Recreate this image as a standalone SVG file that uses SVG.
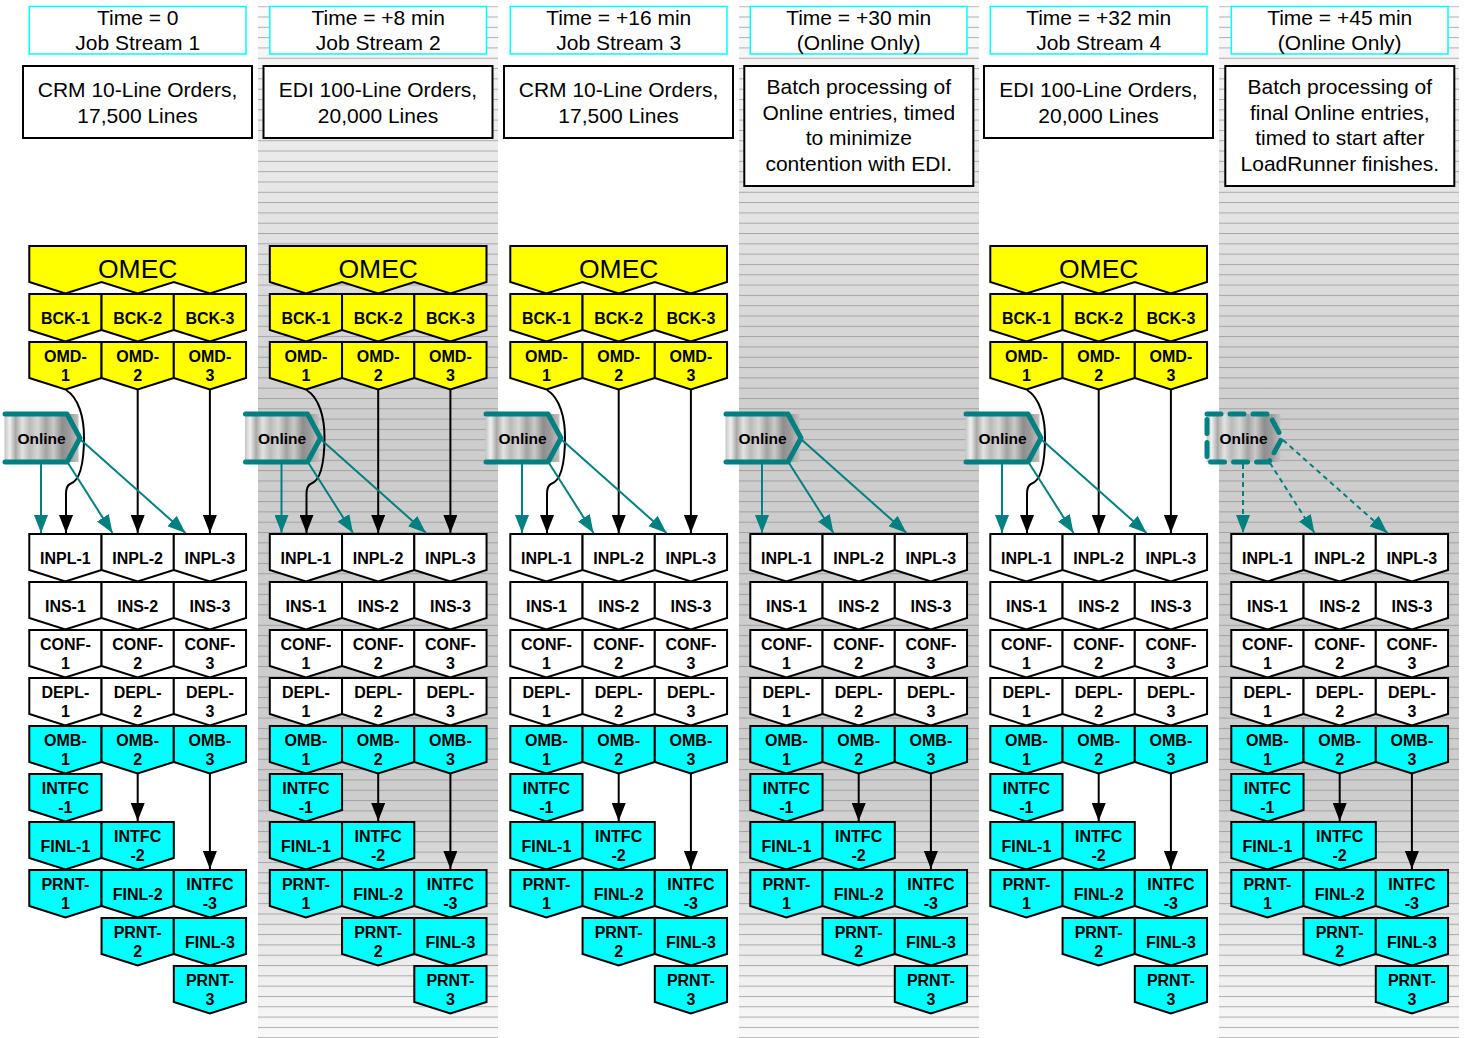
<svg xmlns="http://www.w3.org/2000/svg" xmlns:xlink="http://www.w3.org/1999/xlink" width="1466" height="1038" viewBox="0 0 1466 1038">
<style>
.hd{font-family:"Liberation Sans",Arial,sans-serif;font-size:21px;text-anchor:middle;fill:#000}
.om{font-family:"Liberation Sans",Arial,sans-serif;font-size:26.5px;text-anchor:middle;fill:#000}
.t{font-family:"Liberation Sans",Arial,sans-serif;font-size:16px;font-weight:bold;text-anchor:middle;fill:#000}
.ot{font-family:"Liberation Sans",Arial,sans-serif;font-size:15.5px;font-weight:bold;text-anchor:middle;fill:#000}
.cy{fill:#fff;stroke:#00ffff;stroke-width:1.5}
.bx{fill:#fff;stroke:#000;stroke-width:2}
.w{fill:#fff}.c{fill:#00ffff}.y{fill:#ffff00}
.k{fill:none;stroke:#000;stroke-width:2;marker-end:url(#ab)}
.tl{fill:none;stroke:#008080;stroke-width:2;marker-end:url(#at)}
.td{fill:none;stroke:#008080;stroke-width:2;stroke-dasharray:5,4;marker-end:url(#at)}
.ol{fill:none;stroke:#008080;stroke-width:5;stroke-linecap:round;stroke-linejoin:round}
.old{fill:none;stroke:#008080;stroke-width:5;stroke-linecap:round;stroke-linejoin:round;stroke-dasharray:14,9}
</style>
<defs>
<linearGradient id="shade" x1="0" y1="0" x2="0" y2="1">
<stop offset="0" stop-color="#fbfbfb"/><stop offset="0.18" stop-color="#e6e6e6"/><stop offset="0.4" stop-color="#cdcdcd"/><stop offset="0.76" stop-color="#cdcdcd"/><stop offset="0.9" stop-color="#e9e9e9"/><stop offset="1" stop-color="#fbfbfb"/>
</linearGradient>
<pattern id="hl" patternUnits="userSpaceOnUse" x="0" y="6.2" width="20" height="10.31">
<rect x="0" y="0" width="20" height="1" fill="#8f8f8f" fill-opacity="0.7"/>
</pattern>
<linearGradient id="metal" x1="0" y1="0" x2="1" y2="0">
<stop offset="0" stop-color="#c4c4c4"/><stop offset="0.07" stop-color="#efefef"/><stop offset="0.15" stop-color="#a9a9a9"/><stop offset="0.24" stop-color="#e2e2e2"/><stop offset="0.34" stop-color="#bababa"/><stop offset="0.45" stop-color="#d6d6d6"/><stop offset="0.56" stop-color="#a3a3a3"/><stop offset="0.66" stop-color="#c9c9c9"/><stop offset="0.78" stop-color="#8e8e8e"/><stop offset="0.88" stop-color="#9c9c9c"/><stop offset="1" stop-color="#c2c2c2"/>
</linearGradient>
<path id="p" d="M0,0H72.25V36L36.1,47.5L0,36Z" stroke="#000" stroke-width="2"/>
<path id="omec" d="M0,0H216.7V36L180.6,47.5L144.5,36L108.4,47.5L72.25,36L36.1,47.5L0,36Z" stroke="#000" stroke-width="2"/>
<marker id="ab" markerUnits="userSpaceOnUse" markerWidth="18" markerHeight="14" refX="18" refY="7" orient="auto" viewBox="0 0 18 14"><path d="M0,0L18,7L0,14Z" fill="#000"/></marker>
<marker id="at" markerUnits="userSpaceOnUse" markerWidth="18" markerHeight="14" refX="18" refY="7" orient="auto" viewBox="0 0 18 14"><path d="M0,0L18,7L0,14Z" fill="#008080"/></marker>
</defs>
<rect x="0" y="0" width="1466" height="1038" fill="#fff"/>
<g id="backgrounds">
<rect x="258" y="6.2" width="240" height="1040" fill="url(#shade)"/><rect x="258" y="6.2" width="240" height="1040" fill="url(#hl)"/>
<rect x="739" y="6.2" width="240" height="1040" fill="url(#shade)"/><rect x="739" y="6.2" width="240" height="1040" fill="url(#hl)"/>
<rect x="1219" y="6.2" width="240" height="1040" fill="url(#shade)"/><rect x="1219" y="6.2" width="240" height="1040" fill="url(#hl)"/>
</g>

<!-- Column 1 -->
<g id="col1" transform="translate(0,0)">
<g id="c1-hdr"><rect class="cy" x="29.3" y="6.5" width="216.7" height="47.5"/><text class="hd" x="137.7" y="25">Time = 0</text><text class="hd" x="137.7" y="50">Job Stream 1</text></g>
<g id="c1-desc"><rect class="bx" x="23" y="66" width="229" height="72"/><text class="hd" x="137.5" y="96.5">CRM 10-Line Orders,</text><text class="hd" x="137.5" y="122.5">17,500 Lines</text></g>
<g id="c1-omec" transform="translate(29.3,246)"><use href="#omec" class="y"/><text class="om" x="108.4" y="32">OMEC</text></g>
<g id="c1-bck1" transform="translate(29.3,294)"><use href="#p" class="y"/><text class="t" x="36.1" y="29.5">BCK-1</text></g>
<g id="c1-bck2" transform="translate(101.55,294)"><use href="#p" class="y"/><text class="t" x="36.1" y="29.5">BCK-2</text></g>
<g id="c1-bck3" transform="translate(173.8,294)"><use href="#p" class="y"/><text class="t" x="36.1" y="29.5">BCK-3</text></g>
<g id="c1-omd1" transform="translate(29.3,342)"><use href="#p" class="y"/><text class="t" x="36.1" y="19.7">OMD-<tspan x="36.1" y="38.7">1</tspan></text></g>
<g id="c1-omd2" transform="translate(101.55,342)"><use href="#p" class="y"/><text class="t" x="36.1" y="19.7">OMD-<tspan x="36.1" y="38.7">2</tspan></text></g>
<g id="c1-omd3" transform="translate(173.8,342)"><use href="#p" class="y"/><text class="t" x="36.1" y="19.7">OMD-<tspan x="36.1" y="38.7">3</tspan></text></g>
<g id="c1-online"><rect x="4.5" y="414" width="74" height="48" fill="url(#metal)"/><path class="ol" d="M5,414H67L80,438L67,462H5"/><text class="ot" x="41.5" y="443.5">Online</text></g>
<g id="c1-inpl1" transform="translate(29.3,534)"><use href="#p" class="w"/><text class="t" x="36.1" y="29.5">INPL-1</text></g>
<g id="c1-inpl2" transform="translate(101.55,534)"><use href="#p" class="w"/><text class="t" x="36.1" y="29.5">INPL-2</text></g>
<g id="c1-inpl3" transform="translate(173.8,534)"><use href="#p" class="w"/><text class="t" x="36.1" y="29.5">INPL-3</text></g>
<g id="c1-ins1" transform="translate(29.3,582)"><use href="#p" class="w"/><text class="t" x="36.1" y="29.5">INS-1</text></g>
<g id="c1-ins2" transform="translate(101.55,582)"><use href="#p" class="w"/><text class="t" x="36.1" y="29.5">INS-2</text></g>
<g id="c1-ins3" transform="translate(173.8,582)"><use href="#p" class="w"/><text class="t" x="36.1" y="29.5">INS-3</text></g>
<g id="c1-conf1" transform="translate(29.3,630)"><use href="#p" class="w"/><text class="t" x="36.1" y="19.7">CONF-<tspan x="36.1" y="38.5">1</tspan></text></g>
<g id="c1-conf2" transform="translate(101.55,630)"><use href="#p" class="w"/><text class="t" x="36.1" y="19.7">CONF-<tspan x="36.1" y="38.5">2</tspan></text></g>
<g id="c1-conf3" transform="translate(173.8,630)"><use href="#p" class="w"/><text class="t" x="36.1" y="19.7">CONF-<tspan x="36.1" y="38.5">3</tspan></text></g>
<g id="c1-depl1" transform="translate(29.3,678)"><use href="#p" class="w"/><text class="t" x="36.1" y="19.7">DEPL-<tspan x="36.1" y="38.5">1</tspan></text></g>
<g id="c1-depl2" transform="translate(101.55,678)"><use href="#p" class="w"/><text class="t" x="36.1" y="19.7">DEPL-<tspan x="36.1" y="38.5">2</tspan></text></g>
<g id="c1-depl3" transform="translate(173.8,678)"><use href="#p" class="w"/><text class="t" x="36.1" y="19.7">DEPL-<tspan x="36.1" y="38.5">3</tspan></text></g>
<g id="c1-omb1" transform="translate(29.3,726)"><use href="#p" class="c"/><text class="t" x="36.1" y="19.7">OMB-<tspan x="36.1" y="38.5">1</tspan></text></g>
<g id="c1-omb2" transform="translate(101.55,726)"><use href="#p" class="c"/><text class="t" x="36.1" y="19.7">OMB-<tspan x="36.1" y="38.5">2</tspan></text></g>
<g id="c1-omb3" transform="translate(173.8,726)"><use href="#p" class="c"/><text class="t" x="36.1" y="19.7">OMB-<tspan x="36.1" y="38.5">3</tspan></text></g>
<g id="c1-intfc1" transform="translate(29.3,774)"><use href="#p" class="c"/><text class="t" x="36.1" y="19.7">INTFC<tspan x="36.1" y="38.5">-1</tspan></text></g>
<g id="c1-finl1" transform="translate(29.3,822)"><use href="#p" class="c"/><text class="t" x="36.1" y="29.5">FINL-1</text></g>
<g id="c1-intfc2" transform="translate(101.55,822)"><use href="#p" class="c"/><text class="t" x="36.1" y="19.7">INTFC<tspan x="36.1" y="38.5">-2</tspan></text></g>
<g id="c1-prnt1" transform="translate(29.3,870)"><use href="#p" class="c"/><text class="t" x="36.1" y="19.7">PRNT-<tspan x="36.1" y="38.5">1</tspan></text></g>
<g id="c1-finl2" transform="translate(101.55,870)"><use href="#p" class="c"/><text class="t" x="36.1" y="29.5">FINL-2</text></g>
<g id="c1-intfc3" transform="translate(173.8,870)"><use href="#p" class="c"/><text class="t" x="36.1" y="19.7">INTFC<tspan x="36.1" y="38.5">-3</tspan></text></g>
<g id="c1-prnt2" transform="translate(101.55,918)"><use href="#p" class="c"/><text class="t" x="36.1" y="19.7">PRNT-<tspan x="36.1" y="38.5">2</tspan></text></g>
<g id="c1-finl3" transform="translate(173.8,918)"><use href="#p" class="c"/><text class="t" x="36.1" y="29.5">FINL-3</text></g>
<g id="c1-prnt3" transform="translate(173.8,966)"><use href="#p" class="c"/><text class="t" x="36.1" y="19.7">PRNT-<tspan x="36.1" y="38.5">3</tspan></text></g>
</g>

<!-- Column 2 -->
<g id="col2" transform="translate(240.5,0)">
<g id="c2-hdr"><rect class="cy" x="29.3" y="6.5" width="216.7" height="47.5"/><text class="hd" x="137.7" y="25">Time = +8 min</text><text class="hd" x="137.7" y="50">Job Stream 2</text></g>
<g id="c2-desc"><rect class="bx" x="23" y="66" width="229" height="72"/><text class="hd" x="137.5" y="96.5">EDI 100-Line Orders,</text><text class="hd" x="137.5" y="122.5">20,000 Lines</text></g>
<g id="c2-omec" transform="translate(29.3,246)"><use href="#omec" class="y"/><text class="om" x="108.4" y="32">OMEC</text></g>
<g id="c2-bck1" transform="translate(29.3,294)"><use href="#p" class="y"/><text class="t" x="36.1" y="29.5">BCK-1</text></g>
<g id="c2-bck2" transform="translate(101.55,294)"><use href="#p" class="y"/><text class="t" x="36.1" y="29.5">BCK-2</text></g>
<g id="c2-bck3" transform="translate(173.8,294)"><use href="#p" class="y"/><text class="t" x="36.1" y="29.5">BCK-3</text></g>
<g id="c2-omd1" transform="translate(29.3,342)"><use href="#p" class="y"/><text class="t" x="36.1" y="19.7">OMD-<tspan x="36.1" y="38.7">1</tspan></text></g>
<g id="c2-omd2" transform="translate(101.55,342)"><use href="#p" class="y"/><text class="t" x="36.1" y="19.7">OMD-<tspan x="36.1" y="38.7">2</tspan></text></g>
<g id="c2-omd3" transform="translate(173.8,342)"><use href="#p" class="y"/><text class="t" x="36.1" y="19.7">OMD-<tspan x="36.1" y="38.7">3</tspan></text></g>
<g id="c2-online"><rect x="4.5" y="414" width="74" height="48" fill="url(#metal)"/><path class="ol" d="M5,414H67L80,438L67,462H5"/><text class="ot" x="41.5" y="443.5">Online</text></g>
<g id="c2-inpl1" transform="translate(29.3,534)"><use href="#p" class="w"/><text class="t" x="36.1" y="29.5">INPL-1</text></g>
<g id="c2-inpl2" transform="translate(101.55,534)"><use href="#p" class="w"/><text class="t" x="36.1" y="29.5">INPL-2</text></g>
<g id="c2-inpl3" transform="translate(173.8,534)"><use href="#p" class="w"/><text class="t" x="36.1" y="29.5">INPL-3</text></g>
<g id="c2-ins1" transform="translate(29.3,582)"><use href="#p" class="w"/><text class="t" x="36.1" y="29.5">INS-1</text></g>
<g id="c2-ins2" transform="translate(101.55,582)"><use href="#p" class="w"/><text class="t" x="36.1" y="29.5">INS-2</text></g>
<g id="c2-ins3" transform="translate(173.8,582)"><use href="#p" class="w"/><text class="t" x="36.1" y="29.5">INS-3</text></g>
<g id="c2-conf1" transform="translate(29.3,630)"><use href="#p" class="w"/><text class="t" x="36.1" y="19.7">CONF-<tspan x="36.1" y="38.5">1</tspan></text></g>
<g id="c2-conf2" transform="translate(101.55,630)"><use href="#p" class="w"/><text class="t" x="36.1" y="19.7">CONF-<tspan x="36.1" y="38.5">2</tspan></text></g>
<g id="c2-conf3" transform="translate(173.8,630)"><use href="#p" class="w"/><text class="t" x="36.1" y="19.7">CONF-<tspan x="36.1" y="38.5">3</tspan></text></g>
<g id="c2-depl1" transform="translate(29.3,678)"><use href="#p" class="w"/><text class="t" x="36.1" y="19.7">DEPL-<tspan x="36.1" y="38.5">1</tspan></text></g>
<g id="c2-depl2" transform="translate(101.55,678)"><use href="#p" class="w"/><text class="t" x="36.1" y="19.7">DEPL-<tspan x="36.1" y="38.5">2</tspan></text></g>
<g id="c2-depl3" transform="translate(173.8,678)"><use href="#p" class="w"/><text class="t" x="36.1" y="19.7">DEPL-<tspan x="36.1" y="38.5">3</tspan></text></g>
<g id="c2-omb1" transform="translate(29.3,726)"><use href="#p" class="c"/><text class="t" x="36.1" y="19.7">OMB-<tspan x="36.1" y="38.5">1</tspan></text></g>
<g id="c2-omb2" transform="translate(101.55,726)"><use href="#p" class="c"/><text class="t" x="36.1" y="19.7">OMB-<tspan x="36.1" y="38.5">2</tspan></text></g>
<g id="c2-omb3" transform="translate(173.8,726)"><use href="#p" class="c"/><text class="t" x="36.1" y="19.7">OMB-<tspan x="36.1" y="38.5">3</tspan></text></g>
<g id="c2-intfc1" transform="translate(29.3,774)"><use href="#p" class="c"/><text class="t" x="36.1" y="19.7">INTFC<tspan x="36.1" y="38.5">-1</tspan></text></g>
<g id="c2-finl1" transform="translate(29.3,822)"><use href="#p" class="c"/><text class="t" x="36.1" y="29.5">FINL-1</text></g>
<g id="c2-intfc2" transform="translate(101.55,822)"><use href="#p" class="c"/><text class="t" x="36.1" y="19.7">INTFC<tspan x="36.1" y="38.5">-2</tspan></text></g>
<g id="c2-prnt1" transform="translate(29.3,870)"><use href="#p" class="c"/><text class="t" x="36.1" y="19.7">PRNT-<tspan x="36.1" y="38.5">1</tspan></text></g>
<g id="c2-finl2" transform="translate(101.55,870)"><use href="#p" class="c"/><text class="t" x="36.1" y="29.5">FINL-2</text></g>
<g id="c2-intfc3" transform="translate(173.8,870)"><use href="#p" class="c"/><text class="t" x="36.1" y="19.7">INTFC<tspan x="36.1" y="38.5">-3</tspan></text></g>
<g id="c2-prnt2" transform="translate(101.55,918)"><use href="#p" class="c"/><text class="t" x="36.1" y="19.7">PRNT-<tspan x="36.1" y="38.5">2</tspan></text></g>
<g id="c2-finl3" transform="translate(173.8,918)"><use href="#p" class="c"/><text class="t" x="36.1" y="29.5">FINL-3</text></g>
<g id="c2-prnt3" transform="translate(173.8,966)"><use href="#p" class="c"/><text class="t" x="36.1" y="19.7">PRNT-<tspan x="36.1" y="38.5">3</tspan></text></g>
</g>

<!-- Column 3 -->
<g id="col3" transform="translate(481,0)">
<g id="c3-hdr"><rect class="cy" x="29.3" y="6.5" width="216.7" height="47.5"/><text class="hd" x="137.7" y="25">Time = +16 min</text><text class="hd" x="137.7" y="50">Job Stream 3</text></g>
<g id="c3-desc"><rect class="bx" x="23" y="66" width="229" height="72"/><text class="hd" x="137.5" y="96.5">CRM 10-Line Orders,</text><text class="hd" x="137.5" y="122.5">17,500 Lines</text></g>
<g id="c3-omec" transform="translate(29.3,246)"><use href="#omec" class="y"/><text class="om" x="108.4" y="32">OMEC</text></g>
<g id="c3-bck1" transform="translate(29.3,294)"><use href="#p" class="y"/><text class="t" x="36.1" y="29.5">BCK-1</text></g>
<g id="c3-bck2" transform="translate(101.55,294)"><use href="#p" class="y"/><text class="t" x="36.1" y="29.5">BCK-2</text></g>
<g id="c3-bck3" transform="translate(173.8,294)"><use href="#p" class="y"/><text class="t" x="36.1" y="29.5">BCK-3</text></g>
<g id="c3-omd1" transform="translate(29.3,342)"><use href="#p" class="y"/><text class="t" x="36.1" y="19.7">OMD-<tspan x="36.1" y="38.7">1</tspan></text></g>
<g id="c3-omd2" transform="translate(101.55,342)"><use href="#p" class="y"/><text class="t" x="36.1" y="19.7">OMD-<tspan x="36.1" y="38.7">2</tspan></text></g>
<g id="c3-omd3" transform="translate(173.8,342)"><use href="#p" class="y"/><text class="t" x="36.1" y="19.7">OMD-<tspan x="36.1" y="38.7">3</tspan></text></g>
<g id="c3-online"><rect x="4.5" y="414" width="74" height="48" fill="url(#metal)"/><path class="ol" d="M5,414H67L80,438L67,462H5"/><text class="ot" x="41.5" y="443.5">Online</text></g>
<g id="c3-inpl1" transform="translate(29.3,534)"><use href="#p" class="w"/><text class="t" x="36.1" y="29.5">INPL-1</text></g>
<g id="c3-inpl2" transform="translate(101.55,534)"><use href="#p" class="w"/><text class="t" x="36.1" y="29.5">INPL-2</text></g>
<g id="c3-inpl3" transform="translate(173.8,534)"><use href="#p" class="w"/><text class="t" x="36.1" y="29.5">INPL-3</text></g>
<g id="c3-ins1" transform="translate(29.3,582)"><use href="#p" class="w"/><text class="t" x="36.1" y="29.5">INS-1</text></g>
<g id="c3-ins2" transform="translate(101.55,582)"><use href="#p" class="w"/><text class="t" x="36.1" y="29.5">INS-2</text></g>
<g id="c3-ins3" transform="translate(173.8,582)"><use href="#p" class="w"/><text class="t" x="36.1" y="29.5">INS-3</text></g>
<g id="c3-conf1" transform="translate(29.3,630)"><use href="#p" class="w"/><text class="t" x="36.1" y="19.7">CONF-<tspan x="36.1" y="38.5">1</tspan></text></g>
<g id="c3-conf2" transform="translate(101.55,630)"><use href="#p" class="w"/><text class="t" x="36.1" y="19.7">CONF-<tspan x="36.1" y="38.5">2</tspan></text></g>
<g id="c3-conf3" transform="translate(173.8,630)"><use href="#p" class="w"/><text class="t" x="36.1" y="19.7">CONF-<tspan x="36.1" y="38.5">3</tspan></text></g>
<g id="c3-depl1" transform="translate(29.3,678)"><use href="#p" class="w"/><text class="t" x="36.1" y="19.7">DEPL-<tspan x="36.1" y="38.5">1</tspan></text></g>
<g id="c3-depl2" transform="translate(101.55,678)"><use href="#p" class="w"/><text class="t" x="36.1" y="19.7">DEPL-<tspan x="36.1" y="38.5">2</tspan></text></g>
<g id="c3-depl3" transform="translate(173.8,678)"><use href="#p" class="w"/><text class="t" x="36.1" y="19.7">DEPL-<tspan x="36.1" y="38.5">3</tspan></text></g>
<g id="c3-omb1" transform="translate(29.3,726)"><use href="#p" class="c"/><text class="t" x="36.1" y="19.7">OMB-<tspan x="36.1" y="38.5">1</tspan></text></g>
<g id="c3-omb2" transform="translate(101.55,726)"><use href="#p" class="c"/><text class="t" x="36.1" y="19.7">OMB-<tspan x="36.1" y="38.5">2</tspan></text></g>
<g id="c3-omb3" transform="translate(173.8,726)"><use href="#p" class="c"/><text class="t" x="36.1" y="19.7">OMB-<tspan x="36.1" y="38.5">3</tspan></text></g>
<g id="c3-intfc1" transform="translate(29.3,774)"><use href="#p" class="c"/><text class="t" x="36.1" y="19.7">INTFC<tspan x="36.1" y="38.5">-1</tspan></text></g>
<g id="c3-finl1" transform="translate(29.3,822)"><use href="#p" class="c"/><text class="t" x="36.1" y="29.5">FINL-1</text></g>
<g id="c3-intfc2" transform="translate(101.55,822)"><use href="#p" class="c"/><text class="t" x="36.1" y="19.7">INTFC<tspan x="36.1" y="38.5">-2</tspan></text></g>
<g id="c3-prnt1" transform="translate(29.3,870)"><use href="#p" class="c"/><text class="t" x="36.1" y="19.7">PRNT-<tspan x="36.1" y="38.5">1</tspan></text></g>
<g id="c3-finl2" transform="translate(101.55,870)"><use href="#p" class="c"/><text class="t" x="36.1" y="29.5">FINL-2</text></g>
<g id="c3-intfc3" transform="translate(173.8,870)"><use href="#p" class="c"/><text class="t" x="36.1" y="19.7">INTFC<tspan x="36.1" y="38.5">-3</tspan></text></g>
<g id="c3-prnt2" transform="translate(101.55,918)"><use href="#p" class="c"/><text class="t" x="36.1" y="19.7">PRNT-<tspan x="36.1" y="38.5">2</tspan></text></g>
<g id="c3-finl3" transform="translate(173.8,918)"><use href="#p" class="c"/><text class="t" x="36.1" y="29.5">FINL-3</text></g>
<g id="c3-prnt3" transform="translate(173.8,966)"><use href="#p" class="c"/><text class="t" x="36.1" y="19.7">PRNT-<tspan x="36.1" y="38.5">3</tspan></text></g>
</g>

<!-- Column 4 -->
<g id="col4" transform="translate(721,0)">
<g id="c4-hdr"><rect class="cy" x="29.3" y="6.5" width="216.7" height="47.5"/><text class="hd" x="137.7" y="25">Time = +30 min</text><text class="hd" x="137.7" y="50">(Online Only)</text></g>
<g id="c4-desc"><rect class="bx" x="23.3" y="66" width="229" height="120"/><text class="hd" x="137.8" y="94">Batch processing of</text><text class="hd" x="137.8" y="119.5">Online entries, timed</text><text class="hd" x="137.8" y="145">to minimize</text><text class="hd" x="137.8" y="170.5">contention with EDI.</text></g>
<g id="c4-online"><rect x="4.5" y="414" width="74" height="48" fill="url(#metal)"/><path class="ol" d="M5,414H67L80,438L67,462H5"/><text class="ot" x="41.5" y="443.5">Online</text></g>
<g id="c4-inpl1" transform="translate(29.3,534)"><use href="#p" class="w"/><text class="t" x="36.1" y="29.5">INPL-1</text></g>
<g id="c4-inpl2" transform="translate(101.55,534)"><use href="#p" class="w"/><text class="t" x="36.1" y="29.5">INPL-2</text></g>
<g id="c4-inpl3" transform="translate(173.8,534)"><use href="#p" class="w"/><text class="t" x="36.1" y="29.5">INPL-3</text></g>
<g id="c4-ins1" transform="translate(29.3,582)"><use href="#p" class="w"/><text class="t" x="36.1" y="29.5">INS-1</text></g>
<g id="c4-ins2" transform="translate(101.55,582)"><use href="#p" class="w"/><text class="t" x="36.1" y="29.5">INS-2</text></g>
<g id="c4-ins3" transform="translate(173.8,582)"><use href="#p" class="w"/><text class="t" x="36.1" y="29.5">INS-3</text></g>
<g id="c4-conf1" transform="translate(29.3,630)"><use href="#p" class="w"/><text class="t" x="36.1" y="19.7">CONF-<tspan x="36.1" y="38.5">1</tspan></text></g>
<g id="c4-conf2" transform="translate(101.55,630)"><use href="#p" class="w"/><text class="t" x="36.1" y="19.7">CONF-<tspan x="36.1" y="38.5">2</tspan></text></g>
<g id="c4-conf3" transform="translate(173.8,630)"><use href="#p" class="w"/><text class="t" x="36.1" y="19.7">CONF-<tspan x="36.1" y="38.5">3</tspan></text></g>
<g id="c4-depl1" transform="translate(29.3,678)"><use href="#p" class="w"/><text class="t" x="36.1" y="19.7">DEPL-<tspan x="36.1" y="38.5">1</tspan></text></g>
<g id="c4-depl2" transform="translate(101.55,678)"><use href="#p" class="w"/><text class="t" x="36.1" y="19.7">DEPL-<tspan x="36.1" y="38.5">2</tspan></text></g>
<g id="c4-depl3" transform="translate(173.8,678)"><use href="#p" class="w"/><text class="t" x="36.1" y="19.7">DEPL-<tspan x="36.1" y="38.5">3</tspan></text></g>
<g id="c4-omb1" transform="translate(29.3,726)"><use href="#p" class="c"/><text class="t" x="36.1" y="19.7">OMB-<tspan x="36.1" y="38.5">1</tspan></text></g>
<g id="c4-omb2" transform="translate(101.55,726)"><use href="#p" class="c"/><text class="t" x="36.1" y="19.7">OMB-<tspan x="36.1" y="38.5">2</tspan></text></g>
<g id="c4-omb3" transform="translate(173.8,726)"><use href="#p" class="c"/><text class="t" x="36.1" y="19.7">OMB-<tspan x="36.1" y="38.5">3</tspan></text></g>
<g id="c4-intfc1" transform="translate(29.3,774)"><use href="#p" class="c"/><text class="t" x="36.1" y="19.7">INTFC<tspan x="36.1" y="38.5">-1</tspan></text></g>
<g id="c4-finl1" transform="translate(29.3,822)"><use href="#p" class="c"/><text class="t" x="36.1" y="29.5">FINL-1</text></g>
<g id="c4-intfc2" transform="translate(101.55,822)"><use href="#p" class="c"/><text class="t" x="36.1" y="19.7">INTFC<tspan x="36.1" y="38.5">-2</tspan></text></g>
<g id="c4-prnt1" transform="translate(29.3,870)"><use href="#p" class="c"/><text class="t" x="36.1" y="19.7">PRNT-<tspan x="36.1" y="38.5">1</tspan></text></g>
<g id="c4-finl2" transform="translate(101.55,870)"><use href="#p" class="c"/><text class="t" x="36.1" y="29.5">FINL-2</text></g>
<g id="c4-intfc3" transform="translate(173.8,870)"><use href="#p" class="c"/><text class="t" x="36.1" y="19.7">INTFC<tspan x="36.1" y="38.5">-3</tspan></text></g>
<g id="c4-prnt2" transform="translate(101.55,918)"><use href="#p" class="c"/><text class="t" x="36.1" y="19.7">PRNT-<tspan x="36.1" y="38.5">2</tspan></text></g>
<g id="c4-finl3" transform="translate(173.8,918)"><use href="#p" class="c"/><text class="t" x="36.1" y="29.5">FINL-3</text></g>
<g id="c4-prnt3" transform="translate(173.8,966)"><use href="#p" class="c"/><text class="t" x="36.1" y="19.7">PRNT-<tspan x="36.1" y="38.5">3</tspan></text></g>
</g>

<!-- Column 5 -->
<g id="col5" transform="translate(961,0)">
<g id="c5-hdr"><rect class="cy" x="29.3" y="6.5" width="216.7" height="47.5"/><text class="hd" x="137.7" y="25">Time = +32 min</text><text class="hd" x="137.7" y="50">Job Stream 4</text></g>
<g id="c5-desc"><rect class="bx" x="23" y="66" width="229" height="72"/><text class="hd" x="137.5" y="96.5">EDI 100-Line Orders,</text><text class="hd" x="137.5" y="122.5">20,000 Lines</text></g>
<g id="c5-omec" transform="translate(29.3,246)"><use href="#omec" class="y"/><text class="om" x="108.4" y="32">OMEC</text></g>
<g id="c5-bck1" transform="translate(29.3,294)"><use href="#p" class="y"/><text class="t" x="36.1" y="29.5">BCK-1</text></g>
<g id="c5-bck2" transform="translate(101.55,294)"><use href="#p" class="y"/><text class="t" x="36.1" y="29.5">BCK-2</text></g>
<g id="c5-bck3" transform="translate(173.8,294)"><use href="#p" class="y"/><text class="t" x="36.1" y="29.5">BCK-3</text></g>
<g id="c5-omd1" transform="translate(29.3,342)"><use href="#p" class="y"/><text class="t" x="36.1" y="19.7">OMD-<tspan x="36.1" y="38.7">1</tspan></text></g>
<g id="c5-omd2" transform="translate(101.55,342)"><use href="#p" class="y"/><text class="t" x="36.1" y="19.7">OMD-<tspan x="36.1" y="38.7">2</tspan></text></g>
<g id="c5-omd3" transform="translate(173.8,342)"><use href="#p" class="y"/><text class="t" x="36.1" y="19.7">OMD-<tspan x="36.1" y="38.7">3</tspan></text></g>
<g id="c5-online"><rect x="4.5" y="414" width="74" height="48" fill="url(#metal)"/><path class="ol" d="M5,414H67L80,438L67,462H5"/><text class="ot" x="41.5" y="443.5">Online</text></g>
<g id="c5-inpl1" transform="translate(29.3,534)"><use href="#p" class="w"/><text class="t" x="36.1" y="29.5">INPL-1</text></g>
<g id="c5-inpl2" transform="translate(101.55,534)"><use href="#p" class="w"/><text class="t" x="36.1" y="29.5">INPL-2</text></g>
<g id="c5-inpl3" transform="translate(173.8,534)"><use href="#p" class="w"/><text class="t" x="36.1" y="29.5">INPL-3</text></g>
<g id="c5-ins1" transform="translate(29.3,582)"><use href="#p" class="w"/><text class="t" x="36.1" y="29.5">INS-1</text></g>
<g id="c5-ins2" transform="translate(101.55,582)"><use href="#p" class="w"/><text class="t" x="36.1" y="29.5">INS-2</text></g>
<g id="c5-ins3" transform="translate(173.8,582)"><use href="#p" class="w"/><text class="t" x="36.1" y="29.5">INS-3</text></g>
<g id="c5-conf1" transform="translate(29.3,630)"><use href="#p" class="w"/><text class="t" x="36.1" y="19.7">CONF-<tspan x="36.1" y="38.5">1</tspan></text></g>
<g id="c5-conf2" transform="translate(101.55,630)"><use href="#p" class="w"/><text class="t" x="36.1" y="19.7">CONF-<tspan x="36.1" y="38.5">2</tspan></text></g>
<g id="c5-conf3" transform="translate(173.8,630)"><use href="#p" class="w"/><text class="t" x="36.1" y="19.7">CONF-<tspan x="36.1" y="38.5">3</tspan></text></g>
<g id="c5-depl1" transform="translate(29.3,678)"><use href="#p" class="w"/><text class="t" x="36.1" y="19.7">DEPL-<tspan x="36.1" y="38.5">1</tspan></text></g>
<g id="c5-depl2" transform="translate(101.55,678)"><use href="#p" class="w"/><text class="t" x="36.1" y="19.7">DEPL-<tspan x="36.1" y="38.5">2</tspan></text></g>
<g id="c5-depl3" transform="translate(173.8,678)"><use href="#p" class="w"/><text class="t" x="36.1" y="19.7">DEPL-<tspan x="36.1" y="38.5">3</tspan></text></g>
<g id="c5-omb1" transform="translate(29.3,726)"><use href="#p" class="c"/><text class="t" x="36.1" y="19.7">OMB-<tspan x="36.1" y="38.5">1</tspan></text></g>
<g id="c5-omb2" transform="translate(101.55,726)"><use href="#p" class="c"/><text class="t" x="36.1" y="19.7">OMB-<tspan x="36.1" y="38.5">2</tspan></text></g>
<g id="c5-omb3" transform="translate(173.8,726)"><use href="#p" class="c"/><text class="t" x="36.1" y="19.7">OMB-<tspan x="36.1" y="38.5">3</tspan></text></g>
<g id="c5-intfc1" transform="translate(29.3,774)"><use href="#p" class="c"/><text class="t" x="36.1" y="19.7">INTFC<tspan x="36.1" y="38.5">-1</tspan></text></g>
<g id="c5-finl1" transform="translate(29.3,822)"><use href="#p" class="c"/><text class="t" x="36.1" y="29.5">FINL-1</text></g>
<g id="c5-intfc2" transform="translate(101.55,822)"><use href="#p" class="c"/><text class="t" x="36.1" y="19.7">INTFC<tspan x="36.1" y="38.5">-2</tspan></text></g>
<g id="c5-prnt1" transform="translate(29.3,870)"><use href="#p" class="c"/><text class="t" x="36.1" y="19.7">PRNT-<tspan x="36.1" y="38.5">1</tspan></text></g>
<g id="c5-finl2" transform="translate(101.55,870)"><use href="#p" class="c"/><text class="t" x="36.1" y="29.5">FINL-2</text></g>
<g id="c5-intfc3" transform="translate(173.8,870)"><use href="#p" class="c"/><text class="t" x="36.1" y="19.7">INTFC<tspan x="36.1" y="38.5">-3</tspan></text></g>
<g id="c5-prnt2" transform="translate(101.55,918)"><use href="#p" class="c"/><text class="t" x="36.1" y="19.7">PRNT-<tspan x="36.1" y="38.5">2</tspan></text></g>
<g id="c5-finl3" transform="translate(173.8,918)"><use href="#p" class="c"/><text class="t" x="36.1" y="29.5">FINL-3</text></g>
<g id="c5-prnt3" transform="translate(173.8,966)"><use href="#p" class="c"/><text class="t" x="36.1" y="19.7">PRNT-<tspan x="36.1" y="38.5">3</tspan></text></g>
</g>

<!-- Column 6 -->
<g id="col6" transform="translate(1202,0)">
<g id="c6-hdr"><rect class="cy" x="29.3" y="6.5" width="216.7" height="47.5"/><text class="hd" x="137.7" y="25">Time = +45 min</text><text class="hd" x="137.7" y="50">(Online Only)</text></g>
<g id="c6-desc"><rect class="bx" x="23.3" y="66" width="229" height="120"/><text class="hd" x="137.8" y="94">Batch processing of</text><text class="hd" x="137.8" y="119.5">final Online entries,</text><text class="hd" x="137.8" y="145">timed to start after</text><text class="hd" x="137.8" y="170.5">LoadRunner finishes.</text></g>
<g id="c6-online"><rect x="4.5" y="414" width="74" height="48" fill="url(#metal)"/><path class="old" d="M5,414H67L80,438L67,462H5Z"/><text class="ot" x="41.5" y="443.5">Online</text></g>
<g id="c6-inpl1" transform="translate(29.3,534)"><use href="#p" class="w"/><text class="t" x="36.1" y="29.5">INPL-1</text></g>
<g id="c6-inpl2" transform="translate(101.55,534)"><use href="#p" class="w"/><text class="t" x="36.1" y="29.5">INPL-2</text></g>
<g id="c6-inpl3" transform="translate(173.8,534)"><use href="#p" class="w"/><text class="t" x="36.1" y="29.5">INPL-3</text></g>
<g id="c6-ins1" transform="translate(29.3,582)"><use href="#p" class="w"/><text class="t" x="36.1" y="29.5">INS-1</text></g>
<g id="c6-ins2" transform="translate(101.55,582)"><use href="#p" class="w"/><text class="t" x="36.1" y="29.5">INS-2</text></g>
<g id="c6-ins3" transform="translate(173.8,582)"><use href="#p" class="w"/><text class="t" x="36.1" y="29.5">INS-3</text></g>
<g id="c6-conf1" transform="translate(29.3,630)"><use href="#p" class="w"/><text class="t" x="36.1" y="19.7">CONF-<tspan x="36.1" y="38.5">1</tspan></text></g>
<g id="c6-conf2" transform="translate(101.55,630)"><use href="#p" class="w"/><text class="t" x="36.1" y="19.7">CONF-<tspan x="36.1" y="38.5">2</tspan></text></g>
<g id="c6-conf3" transform="translate(173.8,630)"><use href="#p" class="w"/><text class="t" x="36.1" y="19.7">CONF-<tspan x="36.1" y="38.5">3</tspan></text></g>
<g id="c6-depl1" transform="translate(29.3,678)"><use href="#p" class="w"/><text class="t" x="36.1" y="19.7">DEPL-<tspan x="36.1" y="38.5">1</tspan></text></g>
<g id="c6-depl2" transform="translate(101.55,678)"><use href="#p" class="w"/><text class="t" x="36.1" y="19.7">DEPL-<tspan x="36.1" y="38.5">2</tspan></text></g>
<g id="c6-depl3" transform="translate(173.8,678)"><use href="#p" class="w"/><text class="t" x="36.1" y="19.7">DEPL-<tspan x="36.1" y="38.5">3</tspan></text></g>
<g id="c6-omb1" transform="translate(29.3,726)"><use href="#p" class="c"/><text class="t" x="36.1" y="19.7">OMB-<tspan x="36.1" y="38.5">1</tspan></text></g>
<g id="c6-omb2" transform="translate(101.55,726)"><use href="#p" class="c"/><text class="t" x="36.1" y="19.7">OMB-<tspan x="36.1" y="38.5">2</tspan></text></g>
<g id="c6-omb3" transform="translate(173.8,726)"><use href="#p" class="c"/><text class="t" x="36.1" y="19.7">OMB-<tspan x="36.1" y="38.5">3</tspan></text></g>
<g id="c6-intfc1" transform="translate(29.3,774)"><use href="#p" class="c"/><text class="t" x="36.1" y="19.7">INTFC<tspan x="36.1" y="38.5">-1</tspan></text></g>
<g id="c6-finl1" transform="translate(29.3,822)"><use href="#p" class="c"/><text class="t" x="36.1" y="29.5">FINL-1</text></g>
<g id="c6-intfc2" transform="translate(101.55,822)"><use href="#p" class="c"/><text class="t" x="36.1" y="19.7">INTFC<tspan x="36.1" y="38.5">-2</tspan></text></g>
<g id="c6-prnt1" transform="translate(29.3,870)"><use href="#p" class="c"/><text class="t" x="36.1" y="19.7">PRNT-<tspan x="36.1" y="38.5">1</tspan></text></g>
<g id="c6-finl2" transform="translate(101.55,870)"><use href="#p" class="c"/><text class="t" x="36.1" y="29.5">FINL-2</text></g>
<g id="c6-intfc3" transform="translate(173.8,870)"><use href="#p" class="c"/><text class="t" x="36.1" y="19.7">INTFC<tspan x="36.1" y="38.5">-3</tspan></text></g>
<g id="c6-prnt2" transform="translate(101.55,918)"><use href="#p" class="c"/><text class="t" x="36.1" y="19.7">PRNT-<tspan x="36.1" y="38.5">2</tspan></text></g>
<g id="c6-finl3" transform="translate(173.8,918)"><use href="#p" class="c"/><text class="t" x="36.1" y="29.5">FINL-3</text></g>
<g id="c6-prnt3" transform="translate(173.8,966)"><use href="#p" class="c"/><text class="t" x="36.1" y="19.7">PRNT-<tspan x="36.1" y="38.5">3</tspan></text></g>
</g>

<g id="connectors">
<g transform="translate(0,0)">
<path class="k" d="M66,390C79,398 84,418 84,437C84,462 80,481 70,484Q66,486 66,494V533"/>
<path class="k" d="M137.7,390V533"/><path class="k" d="M209.9,390V533"/>
<path class="tl" d="M41,464V533"/><path class="tl" d="M68,463L112.5,533"/><path class="tl" d="M81,440L185.5,533"/>
<path class="k" d="M137.7,774V821"/><path class="k" d="M209.9,774V869"/>
</g>
<g transform="translate(240.5,0)">
<path class="k" d="M66,390C79,398 84,418 84,437C84,462 80,481 70,484Q66,486 66,494V533"/>
<path class="k" d="M137.7,390V533"/><path class="k" d="M209.9,390V533"/>
<path class="tl" d="M41,464V533"/><path class="tl" d="M68,463L112.5,533"/><path class="tl" d="M81,440L185.5,533"/>
<path class="k" d="M137.7,774V821"/><path class="k" d="M209.9,774V869"/>
</g>
<g transform="translate(481,0)">
<path class="k" d="M66,390C79,398 84,418 84,437C84,462 80,481 70,484Q66,486 66,494V533"/>
<path class="k" d="M137.7,390V533"/><path class="k" d="M209.9,390V533"/>
<path class="tl" d="M41,464V533"/><path class="tl" d="M68,463L112.5,533"/><path class="tl" d="M81,440L185.5,533"/>
<path class="k" d="M137.7,774V821"/><path class="k" d="M209.9,774V869"/>
</g>
<g transform="translate(721,0)">
<path class="tl" d="M41,464V533"/><path class="tl" d="M68,463L112.5,533"/><path class="tl" d="M81,440L185.5,533"/>
<path class="k" d="M137.7,774V821"/><path class="k" d="M209.9,774V869"/>
</g>
<g transform="translate(961,0)">
<path class="k" d="M66,390C79,398 84,418 84,437C84,462 80,481 70,484Q66,486 66,494V533"/>
<path class="k" d="M137.7,390V533"/><path class="k" d="M209.9,390V533"/>
<path class="tl" d="M41,464V533"/><path class="tl" d="M68,463L112.5,533"/><path class="tl" d="M81,440L185.5,533"/>
<path class="k" d="M137.7,774V821"/><path class="k" d="M209.9,774V869"/>
</g>
<g transform="translate(1202,0)">
<path class="td" d="M41,464V533"/><path class="td" d="M68,463L112.5,533"/><path class="td" d="M81,440L185.5,533"/>
<path class="k" d="M137.7,774V821"/><path class="k" d="M209.9,774V869"/>
</g>
</g>
</svg>
